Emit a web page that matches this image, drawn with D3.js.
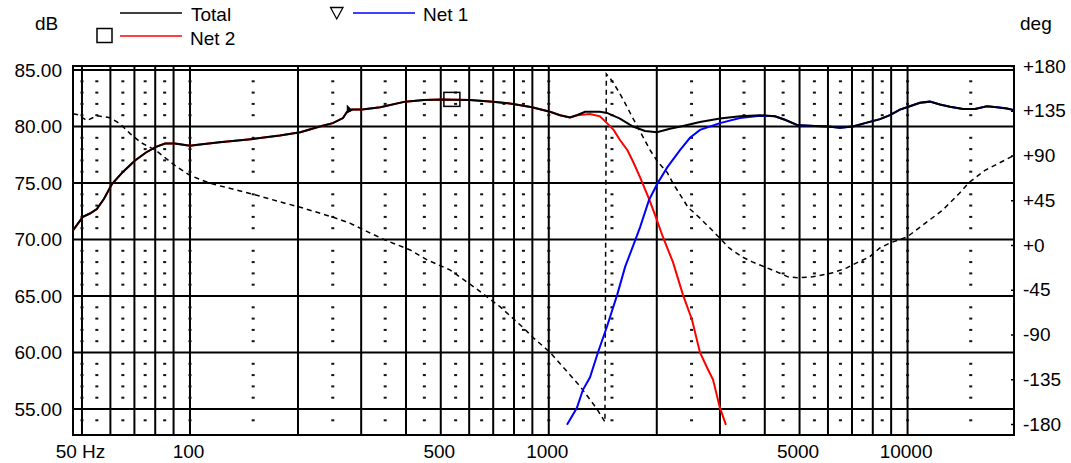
<!DOCTYPE html>
<html>
<head>
    <meta charset="utf-8" />
    <title>Frequency response</title>
    <script src="https://cdn.jsdelivr.net/npm/d3@7"></script>
    <style>
        body { margin: 0; background: #fff; }
        svg { display: block; font-family: "Liberation Sans", Arial, sans-serif; }
        text { font-size: 19px; fill: #000; }
    </style>
</head>
<body>
    <script>

        // Hz / dB
        let totalFreq = [47.2, 48.7, 50.3, 52.6, 55, 57.6, 60.6, 65.1, 70.3, 75.4, 80.4, 85.2, 90.8, 100, 106.6, 121, 150, 178, 203, 230, 250, 267, 274, 283, 302, 339, 398, 449, 501, 603, 699, 795, 898, 1008, 1075, 1146, 1198, 1262, 1389, 1453, 1579, 1717, 1854, 2002, 2176, 2366, 2639, 3000, 3411, 3878, 4269, 4553, 4950, 5520, 6000, 6480, 7043, 7610, 8380, 8930, 9520, 9960, 10830, 11540, 12310, 13130, 14270, 15410, 16640, 17750, 18920, 19800]
        let totalDb = [70.8, 71.4, 72.0, 72.3, 72.7, 73.6, 74.9, 76.0, 77.0, 77.7, 78.2, 78.5, 78.5, 78.3, 78.4, 78.6, 78.9, 79.2, 79.5, 80.0, 80.3, 80.75, 81.3, 81.5, 81.5, 81.7, 82.2, 82.35, 82.4, 82.35, 82.2, 82.0, 81.7, 81.3, 81.0, 80.8, 81.0, 81.3, 81.3, 81.2, 80.7, 80.0, 79.6, 79.5, 79.8, 80.05, 80.4, 80.7, 80.9, 81.0, 80.9, 80.6, 80.1, 80.05, 80.0, 79.9, 80.0, 80.3, 80.65, 81.0, 81.5, 81.7, 82.1, 82.2, 81.95, 81.75, 81.55, 81.55, 81.8, 81.7, 81.6, 81.45]

        let net2Freq = [47.2, 48.7, 50.3, 52.6, 55, 57.6, 60.6, 65.1, 70.3, 75.4, 80.4, 85.2, 90.8, 100, 106.6, 121, 150, 178, 203, 230, 250, 267, 274, 283, 302, 339, 398, 449, 501, 603, 699, 795, 898, 1008, 1075, 1146, 1198, 1303, 1389, 1453, 1516, 1579, 1657, 1717, 1797, 1903, 1993, 2081, 2219, 2366, 2507, 2639, 2778, 2869, 3000, 3118]
        let net2Db = [70.8, 71.4, 72.0, 72.3, 72.7, 73.6, 74.9, 76.0, 77.0, 77.7, 78.2, 78.5, 78.5, 78.3, 78.4, 78.6, 78.9, 79.2, 79.5, 80.0, 80.3, 80.75, 81.3, 81.5, 81.5, 81.7, 82.2, 82.35, 82.4, 82.35, 82.2, 82.0, 81.7, 81.3, 81.0, 80.8, 81.0, 81.1, 80.9, 80.3, 79.7, 78.8, 77.9, 76.9, 75.5, 73.6, 71.9, 70.2, 68.0, 65.1, 62.9, 60.0, 58.5, 57.6, 55.1, 53.6]

        let net1Freq = [1124, 1198, 1245, 1303, 1371, 1453, 1551, 1633, 1721, 1797, 1903, 2012, 2141, 2321, 2475, 2639, 3000, 3411, 3878, 4269, 4553, 4950, 5520, 6000, 6480, 7043, 7610, 8380, 8930, 9520, 9960, 10830, 11540, 12310, 13130, 14270, 15410, 16640, 17750, 18920, 19800]
        let net1Db = [53.6, 55.1, 56.7, 57.8, 60.0, 62.3, 65.1, 67.6, 69.5, 71.1, 73.5, 75.0, 76.4, 77.9, 79.0, 79.7, 80.3, 80.75, 80.95, 80.9, 80.6, 80.1, 80.05, 80.0, 79.9, 80.0, 80.3, 80.65, 81.0, 81.5, 81.7, 82.1, 82.2, 81.95, 81.75, 81.55, 81.55, 81.8, 81.7, 81.6, 81.45]

        // Hz / deg
        let phaseFreq = [47.2, 48.7, 51.6, 55, 59.8, 63.8, 68.1, 73, 80.4, 90.8, 100, 113.7, 150, 184, 203, 250, 279, 318, 350, 411, 458, 530, 623, 731, 848, 904, 1008, 1110, 1222, 1363, 1434, 1447, 1502, 1574, 1630, 1713, 1835, 1919, 2018, 2138, 2219, 2443, 2639, 2850, 3183, 3459, 3690, 4320, 4640, 4944, 5440, 6190, 6770, 7210, 7830, 8370, 8930, 9960, 11020, 12520, 13950, 14860, 16430, 18120, 19800]
        let phaseDeg = [132, 131, 125, 130, 128, 122, 112, 103, 95, 80, 70, 62, 51, 42, 38, 28, 22, 12, 5, -5, -15, -25, -43, -62, -83, -93, -108, -125, -142, -165, -178, 172, 165, 153, 143, 128, 108, 95, 83, 73, 62, 38, 27, 15, -3, -12, -17, -27, -32, -33, -32, -28, -23, -18, -12, -3, 2, 8, 20, 35, 52, 63, 75, 83, 90]

        // markers [Hz, dB]
        let squareMarker = [537, 82.4]
        let triangleMarker = [277, 81.6]

        let majorFreq = [50, 60, 70, 80, 90, 100, 200, 300, 400, 500, 600, 700, 800, 900, 1000, 2000, 3000, 4000, 5000, 6000, 7000, 8000, 9000, 10000]
        let minorFreq = [50, 55, 65, 75, 85, 100, 150, 250, 350, 450, 550, 650, 750, 850, 1000, 1500, 2500, 3500, 4500, 5500, 6500, 7500, 8500, 10000, 15000]
        let freqTicks = [50, 100, 500, 1000, 5000, 10000]
        let freqTickLabels = ['50 Hz', '100', '500', '1000', '5000', '10000']
        let dbTicks = [55, 60, 65, 70, 75, 80, 85]
        let degTicks = [-180, -135, -90, -45, 0, 45, 90, 135, 180]

        let plotLeft = 73, plotRight = 1014, plotTop = 66, plotBottom = 435

        let x = d3.scaleLog().domain([47.2, 19800]).range([plotLeft, plotRight])
        let yDb = d3.scaleLinear().domain([55, 85]).range([409, 70])
        let yDeg = d3.scaleLinear().domain([-180, 180]).range([424, 66])

        let svg = d3.select('body')
                    .append('svg')
                    .attr('width', 1071)
                    .attr('height', 463)

        // grid
        let grid = svg.append('g')
                    .attr('stroke', '#000')
                    .attr('stroke-width', 2)

        grid.selectAll('line.v')
            .data(majorFreq)
            .enter()
                .append('line')
                .attr('x1', d => x(d))
                .attr('x2', d => x(d))
                .attr('y1', plotTop)
                .attr('y2', plotBottom)

        grid.selectAll('line.h')
            .data(dbTicks)
            .enter()
                .append('line')
                .attr('x1', plotLeft)
                .attr('x2', plotRight)
                .attr('y1', d => yDb(d))
                .attr('y2', d => yDb(d))

        grid.append('rect')
            .attr('x', plotLeft)
            .attr('y', plotTop)
            .attr('width', plotRight - plotLeft)
            .attr('height', plotBottom - plotTop)
            .attr('fill', 'none')

        let dotRows = d3.range(54, 85).filter(d => d % 5 !== 0)
        let dots = svg.append('g').attr('fill', '#111')
        minorFreq.forEach(function (f) {
            dots.selectAll(null)
                .data(dotRows)
                .enter()
                    .append('rect')
                    .attr('x', x(f) - 1.5)
                    .attr('y', d => yDb(d) - 1)
                    .attr('width', 3)
                    .attr('height', 2)
        })

        // curves
        let dbLine = d3.line()
                        .x(d => x(d[0]))
                        .y(d => yDb(d[1]))

        let phaseLine = d3.line()
                        .x(d => x(d[0]))
                        .y(d => yDeg(d[1]))

        let curves = svg.append('g').attr('fill', 'none')

        curves.append('path')
            .attr('d', phaseLine(d3.zip(phaseFreq, phaseDeg)))
            .attr('stroke', '#000')
            .attr('stroke-width', 1.5)
            .attr('stroke-dasharray', '5,4')

        curves.append('path')
            .attr('d', dbLine(d3.zip(net2Freq, net2Db)))
            .attr('stroke', '#ff0000')
            .attr('stroke-width', 2)

        curves.append('path')
            .attr('d', dbLine(d3.zip(net1Freq, net1Db)))
            .attr('stroke', '#0000ff')
            .attr('stroke-width', 2)

        curves.append('path')
            .attr('d', dbLine(d3.zip(totalFreq, totalDb)))
            .attr('stroke', '#000')
            .attr('stroke-width', 2)

        // markers
        svg.append('rect')
            .attr('x', x(squareMarker[0]) - 8)
            .attr('y', yDb(squareMarker[1]) - 7)
            .attr('width', 16)
            .attr('height', 14)
            .attr('fill', 'none')
            .attr('stroke', '#000')
            .attr('stroke-width', 1.5)

        let tx = x(triangleMarker[0]), ty = yDb(triangleMarker[1])
        svg.append('path')
            .attr('d', `M${tx - 2},${ty - 4}L${tx + 4},${ty + 2}L${tx - 2},${ty + 5}Z`)
            .attr('fill', '#000')

        // axes
        svg.append('g')
            .attr('transform', `translate(${plotLeft},0)`)
            .call(d3.axisLeft(yDb).tickValues(dbTicks).tickFormat(d3.format('.2f')).tickSize(0).tickPadding(11))
            .call(g => g.select('.domain').remove())
            .attr('font-size', null)
            .attr('font-family', null)

        svg.append('g')
            .attr('transform', `translate(${plotRight},0)`)
            .call(d3.axisRight(yDeg).tickValues(degTicks).tickFormat(d => (d >= 0 ? '+' : '') + d).tickSize(-3).tickPadding(9))
            .call(g => g.select('.domain').remove())
            .call(g => g.selectAll('.tick line').attr('stroke-width', 1.5))
            .attr('font-size', null)
            .attr('font-family', null)

        svg.append('g')
            .attr('transform', `translate(0,${plotBottom})`)
            .call(d3.axisBottom(x).tickValues(freqTicks).tickFormat((d, i) => freqTickLabels[i]).tickSize(0).tickPadding(9.5))
            .call(g => g.select('.domain').remove())
            .call(g => g.selectAll('.tick text').attr('x', -2))
            .attr('font-size', null)
            .attr('font-family', null)

        // unit labels + legend
        svg.append('text').attr('x', 35).attr('y', 30).text('dB')
        svg.append('text').attr('x', 1020).attr('y', 30).text('deg')

        let legend = svg.append('g')
        legend.append('line').attr('x1', 120).attr('x2', 182).attr('y1', 13).attr('y2', 13).attr('stroke', '#000').attr('stroke-width', 1.5)
        legend.append('text').attr('x', 191).attr('y', 21).text('Total')

        legend.append('rect').attr('x', 97).attr('y', 28.5).attr('width', 15).attr('height', 14)
            .attr('fill', 'none').attr('stroke', '#000').attr('stroke-width', 1.5)
        legend.append('line').attr('x1', 120).attr('x2', 182).attr('y1', 36).attr('y2', 36).attr('stroke', '#ff0000').attr('stroke-width', 1.5)
        legend.append('text').attr('x', 190).attr('y', 45).text('Net 2')

        legend.append('path').attr('d', 'M330.5,7.5L343,7.5L336.75,19Z')
            .attr('fill', 'none').attr('stroke', '#000').attr('stroke-width', 1.3)
        legend.append('line').attr('x1', 353).attr('x2', 415).attr('y1', 13).attr('y2', 13).attr('stroke', '#0000ff').attr('stroke-width', 1.5)
        legend.append('text').attr('x', 423).attr('y', 21).text('Net 1')

    </script>
</body>
</html>
